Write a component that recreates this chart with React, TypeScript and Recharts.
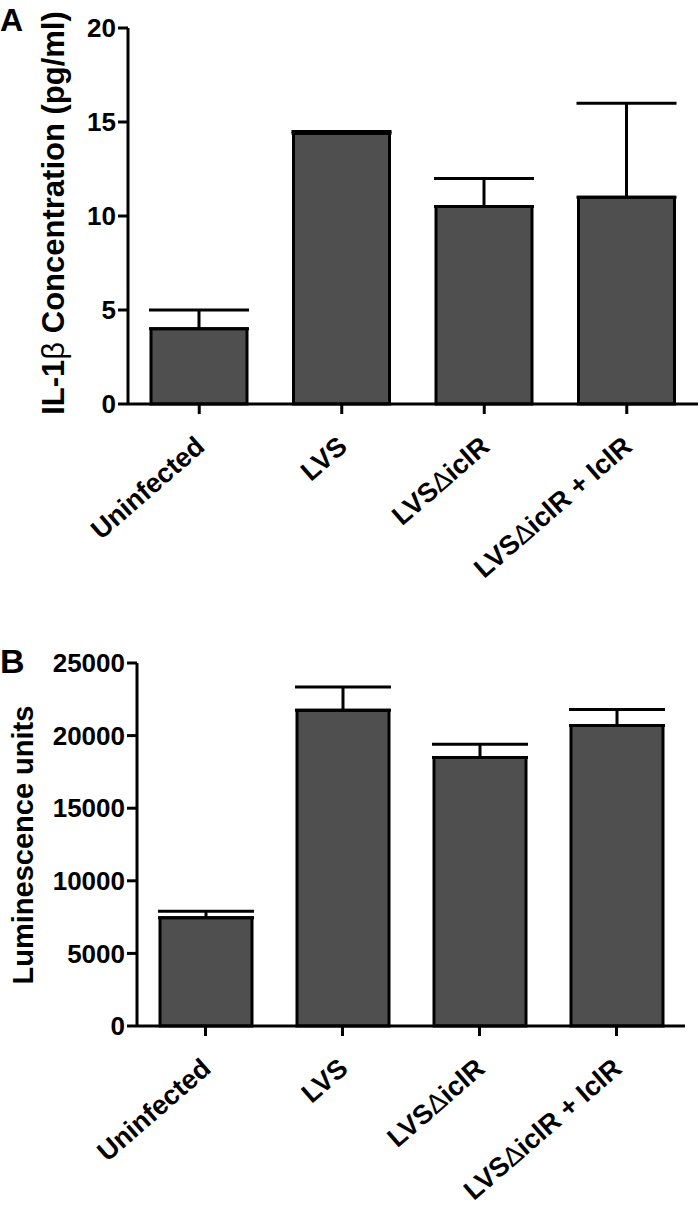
import { Bar, BarChart, ErrorBar, XAxis, YAxis } from "recharts";

const FONT = "'Liberation Sans', Arial, Helvetica, sans-serif";

const categories = ["Uninfected", "LVS", "LVSΔiclR", "LVSΔiclR + IclR"];

// panel A: IL-1b concentration (pg/ml)
const il1bMean = [4.0, 14.4, 10.5, 11.0];
const il1bErr = [1.0, 0.1, 1.5, 5.0];
const il1bTicks = [0, 5, 10, 15, 20];

// panel B: luminescence units
const lumMean = [7450, 21750, 18500, 20700];
const lumErr = [450, 1600, 900, 1100];
const lumTicks = [0, 5000, 10000, 15000, 20000, 25000];

const il1bData = categories.map((name, i) => ({
  name,
  mean: il1bMean[i],
  err: [0, il1bErr[i]],
}));

const lumData = categories.map((name, i) => ({
  name,
  mean: lumMean[i],
  err: [0, lumErr[i]],
}));

function XTick(props: any) {
  const { x, y, payload } = props;
  const parts = String(payload.value).split("Δ");
  const px = x + 7;
  const py = y + 33;
  return (
    <text
      x={px}
      y={py}
      textAnchor="end"
      transform={`rotate(-41 ${px} ${py})`}
      fontFamily={FONT}
      fontWeight="bold"
      fontSize={27}
      fill="#000"
    >
      {parts[0]}
      {parts.length > 1 && (
        <>
          <tspan fontWeight="normal">Δ</tspan>
          {parts[1]}
        </>
      )}
    </text>
  );
}

const yTick = { fill: "#000", fontSize: 26, fontWeight: "bold", fontFamily: FONT };
const axisLine = { stroke: "#000", strokeWidth: 3 };

function LabelA() {
  return (
    <g fontFamily={FONT} fontWeight="bold" fill="#000">
      <text x={0} y={31} fontSize={32}>A</text>
      <text
        x={64}
        y={213}
        fontSize={31}
        textAnchor="middle"
        transform="rotate(-90 64 213)"
      >
        IL-1<tspan fontWeight="normal">β</tspan> Concentration (pg/ml)
      </text>
    </g>
  );
}

function LabelB() {
  return (
    <g fontFamily={FONT} fontWeight="bold" fill="#000">
      <text x={0} y={53} fontSize={34}>B</text>
      <text
        x={33}
        y={225}
        fontSize={29}
        textAnchor="middle"
        transform="rotate(-90 33 225)"
      >
        Luminescence units
      </text>
    </g>
  );
}

export default function App() {
  return (
    <div
      style={{
        position: "absolute",
        left: 0,
        top: 0,
        width: 700,
        height: 1205,
        background: "#fff",
      }}
    >
      <div style={{ position: "absolute", left: 0, top: 0 }}>
        <BarChart
          width={700}
          height={620}
          data={il1bData}
          margin={{ top: 28, right: 2, left: 0, bottom: 0 }}
        >
          <XAxis
            dataKey="name"
            height={216}
            axisLine={axisLine}
            tickLine={axisLine}
            tickSize={10}
            interval={0}
            tick={XTick}
          />
          <YAxis
            width={128}
            domain={[0, 20]}
            ticks={il1bTicks}
            axisLine={axisLine}
            tickLine={axisLine}
            tickSize={10}
            tick={yTick}
            label={LabelA}
          />
          <Bar
            dataKey="mean"
            fill="#4f4f4f"
            stroke="#000"
            strokeWidth={3}
            barSize={96}
            isAnimationActive={false}
          >
            <ErrorBar
              dataKey="err"
              direction="y"
              width={50}
              stroke="#000"
              strokeWidth={3}
              isAnimationActive={false}
            />
          </Bar>
        </BarChart>
      </div>
      <div style={{ position: "absolute", left: 0, top: 620 }}>
        <BarChart
          width={700}
          height={585}
          data={lumData}
          margin={{ top: 43, right: 15, left: 0, bottom: 0 }}
        >
          <XAxis
            dataKey="name"
            height={179}
            axisLine={axisLine}
            tickLine={axisLine}
            tickSize={10}
            interval={0}
            tick={XTick}
          />
          <YAxis
            width={137}
            domain={[0, 25000]}
            ticks={lumTicks}
            axisLine={axisLine}
            tickLine={axisLine}
            tickSize={10}
            tick={yTick}
            label={LabelB}
          />
          <Bar
            dataKey="mean"
            fill="#4f4f4f"
            stroke="#000"
            strokeWidth={3}
            barSize={92}
            isAnimationActive={false}
          >
            <ErrorBar
              dataKey="err"
              direction="y"
              width={48}
              stroke="#000"
              strokeWidth={3}
              isAnimationActive={false}
            />
          </Bar>
        </BarChart>
      </div>
    </div>
  );
}
